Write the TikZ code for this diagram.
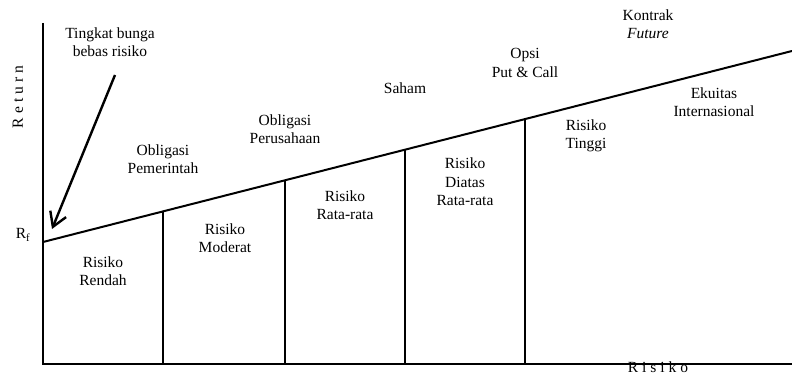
\documentclass[tikz,border=0pt]{standalone}
\usepackage{fontspec}
\setmainfont{Liberation Serif}
\usetikzlibrary{arrows.meta}
\begin{document}
\begin{tikzpicture}[x=1pt,y=-1pt,
  lbl/.style={align=center,font=\fontsize{15.5}{18.5}\selectfont,inner sep=0pt},
  ax/.style={line width=2pt},
  div/.style={line width=1.5pt},
  cml/.style={line width=2pt},
  pointer/.style={line width=2.4pt,-{Straight Barb[length=14pt,width=17pt,line width=2.4pt]}}]
\useasboundingbox (0,0) rectangle (792,374);
% axes
\coordinate (O) at (43,363.5);
\coordinate (Ytop) at (43,23);
\coordinate (Xend) at (792,363.5);
\draw[ax] (Ytop) -- (O) -- (Xend);
% risk-return line
\coordinate (Rf) at (43,242);
\coordinate (L) at (792,51);
\draw[cml] (Rf) -- (L);
% dividers
\foreach \n/\x/\y in {a/163/211.4, b/285/180.3, c/405/149.7, d/525/119.1}{
  \coordinate (top\n) at (\x,\y);
  \coordinate (bot\n) at (\x,363.5);
  \draw[div] (top\n) -- (bot\n);
}
% arrow
\coordinate (arrS) at (115,75);
\coordinate (arrT) at (52,229);
\draw[pointer] (arrS) -- (arrT);
% labels
\node[lbl] (tingkat) at (110,42) {Tingkat bunga\\bebas risiko};
\node[lbl,rotate=90] (ret) at (18,97) {R\kern4pt e\kern4pt t\kern4pt u\kern4pt r\kern4pt n};
\node[lbl] (rf) at (23,235) {R\textsubscript{f}};
\node[lbl] (oblpem) at (163,159) {Obligasi\\Pemerintah};
\node[lbl] (oblper) at (285,129) {Obligasi\\Perusahaan};
\node[lbl] (saham) at (405,88) {Saham};
\node[lbl] (opsi) at (525,63) {Opsi\\Put \& Call};
\node[lbl] (kontrak) at (648,24) {Kontrak\\\textit{Future}};
\node[lbl] (ekuitas) at (714,102) {Ekuitas\\Internasional};
\node[lbl] (tinggi) at (586,136) {Risiko\\Tinggi};
\node[lbl] (diatas) at (465,182) {Risiko\\Diatas\\Rata-rata};
\node[lbl] (ratarata) at (345,205) {Risiko\\Rata-rata};
\node[lbl] (moderat) at (225,238) {Risiko\\Moderat};
\node[lbl] (rendah) at (103,271) {Risiko\\Rendah};
\node[lbl,anchor=base] (xrisk) at (658,372) {R\kern4pt i\kern4pt s\kern4pt i\kern4pt k\kern4pt o};
\end{tikzpicture}
\end{document}
